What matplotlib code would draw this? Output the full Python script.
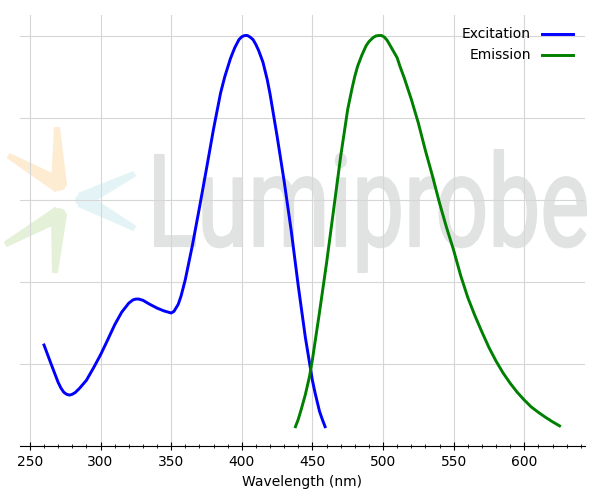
#!/usr/bin/env python3
"""Excitation / emission spectra with a Lumiprobe-style watermark."""

import matplotlib

matplotlib.use("Agg")
import matplotlib.pyplot as plt
import matplotlib.transforms as mtransforms
import numpy as np
from matplotlib.font_manager import FontProperties
from matplotlib.patches import Circle, PathPatch, Polygon
from matplotlib.textpath import TextPath
from matplotlib.ticker import MultipleLocator

# normalised spectra
exc_wl = [260, 265, 270, 272, 274, 276, 278, 280, 282, 285, 290, 295, 300,
          305, 310, 315, 320, 323, 325, 327, 330, 335, 340, 345, 348, 350,
          352, 355, 357, 360, 365, 370, 375, 380, 385, 388, 390, 392, 395,
          398, 400, 402, 404, 406, 408, 410, 412, 415, 418, 420, 425, 430,
          435, 440, 445, 450, 452, 455, 457, 459]
exc_val = [0.246, 0.200, 0.155, 0.141, 0.131, 0.126, 0.124, 0.126, 0.130,
           0.140, 0.160, 0.190, 0.222, 0.258, 0.295, 0.326, 0.348, 0.356,
           0.358, 0.358, 0.355, 0.345, 0.336, 0.329, 0.326, 0.324, 0.328,
           0.345, 0.365, 0.405, 0.488, 0.580, 0.675, 0.772, 0.860, 0.900,
           0.922, 0.944, 0.970, 0.990, 0.997, 1.000, 1.000, 0.996, 0.990,
           0.978, 0.963, 0.935, 0.893, 0.858, 0.755, 0.645, 0.525, 0.390,
           0.265, 0.160, 0.128, 0.085, 0.065, 0.047]

em_wl = [438, 440, 442, 445, 448, 450, 455, 460, 465, 470, 475, 478, 480,
         482, 485, 488, 490, 493, 495, 497, 499, 501, 503, 505, 508, 510,
         512, 515, 520, 525, 530, 535, 540, 545, 550, 555, 560, 565, 570,
         575, 580, 585, 590, 595, 600, 605, 610, 615, 620, 625]
em_val = [0.047, 0.065, 0.088, 0.125, 0.170, 0.210, 0.325, 0.445, 0.575,
          0.705, 0.820, 0.870, 0.900, 0.925, 0.952, 0.975, 0.985, 0.995,
          0.999, 1.000, 1.000, 0.996, 0.988, 0.976, 0.958, 0.946, 0.925,
          0.897, 0.845, 0.787, 0.720, 0.658, 0.592, 0.532, 0.477, 0.415,
          0.362, 0.318, 0.278, 0.240, 0.207, 0.178, 0.153, 0.131, 0.112,
          0.095, 0.082, 0.070, 0.059, 0.049]

FIG_W, FIG_H = 600, 500


def _px(x, y):
    """Pixel position (origin top-left) -> figure fraction."""
    return x / FIG_W, 1 - y / FIG_H


def _petal(ax, vertex, tips, color, w0=14.0, w1=4.0):
    # a boomerang: two tapered arms meeting at a rounded vertex
    vx, vy = vertex
    for tx, ty in tips:
        d = np.array([tx - vx, ty - vy], dtype=float)
        n = np.array([-d[1], d[0]]) / np.hypot(*d)
        pts = [
            (vx + n[0] * w0 / 2, vy + n[1] * w0 / 2),
            (tx + n[0] * w1 / 2, ty + n[1] * w1 / 2),
            (tx - n[0] * w1 / 2, ty - n[1] * w1 / 2),
            (vx - n[0] * w0 / 2, vy - n[1] * w0 / 2),
        ]
        ax.add_patch(Polygon([_px(*p) for p in pts], closed=True,
                             transform=ax.figure.transFigure, fc=color,
                             ec=color, lw=1.5, joinstyle="round",
                             zorder=0.1, clip_on=False))
    ax.add_patch(Circle(_px(vx, vy), w0 / 2 / FIG_W, fc=color, ec="none",
                        transform=ax.figure.transFigure, zorder=0.1,
                        clip_on=False))


def _watermark(ax):
    fig = ax.figure
    prop = FontProperties(family=["Roboto", "DejaVu Sans"])
    tp = TextPath((0, 0), "Lumiprobe", size=100, prop=prop)
    cap = TextPath((0, 0), "L", size=100, prop=prop).get_extents()
    bb = tp.get_extents()
    left, right, top, base = 155, 586, 155, 246
    sx = (right - left) / bb.width
    sy = (base - top) / cap.height
    tr = (mtransforms.Affine2D()
          .translate(-bb.x0, 0)
          .scale(sx, sy)
          .translate(left, FIG_H - base)
          .scale(1 / FIG_W, 1 / FIG_H)) + fig.transFigure
    ax.add_patch(PathPatch(tp, transform=tr, fc="#e1e2e2", ec="#e1e2e2",
                           lw=1.5, joinstyle="round", zorder=0.1,
                           clip_on=False))

    _petal(ax, (59, 185), [(57, 128), (9, 156)], "#fdebd2")
    _petal(ax, (59, 214), [(55, 272), (6, 244)], "#e4f0d8")
    _petal(ax, (82, 200), [(134, 174), (134, 228)], "#e4f4f6")


def main():
    fig = plt.figure(figsize=(6, 5), dpi=100)
    ax = fig.add_axes([20 / FIG_W, 54 / FIG_H, 565 / FIG_W, 431 / FIG_H])

    _watermark(ax)

    ax.plot(exc_wl, exc_val, color="blue", lw=2.1, label="Excitation",
            zorder=3, solid_joinstyle="round")
    ax.plot(em_wl, em_val, color="green", lw=2.1, label="Emission",
            zorder=3, solid_joinstyle="round")

    ax.set_xlim(243, 643)
    ax.set_ylim(0, 1.05)
    ax.xaxis.set_major_locator(MultipleLocator(50))
    ax.xaxis.set_minor_locator(MultipleLocator(10))
    ax.yaxis.set_major_locator(MultipleLocator(0.2))
    ax.set_axisbelow(True)
    ax.grid(True, color="#d6d6d6", lw=0.8)
    for side in ("top", "right", "left"):
        ax.spines[side].set_visible(False)
    ax.tick_params(axis="y", left=False, labelleft=False)
    ax.tick_params(axis="x", which="major", direction="inout", length=6,
                   labelsize=10)
    ax.tick_params(axis="x", which="minor", direction="inout", length=3)
    ax.set_xlabel("Wavelength (nm)", fontsize=10)

    ax.legend(loc="upper right", frameon=False, markerfirst=False,
              fontsize=10, handlelength=2.2)

    fig.savefig("out.png", dpi=100)
    plt.close(fig)


if __name__ == "__main__":
    main()
